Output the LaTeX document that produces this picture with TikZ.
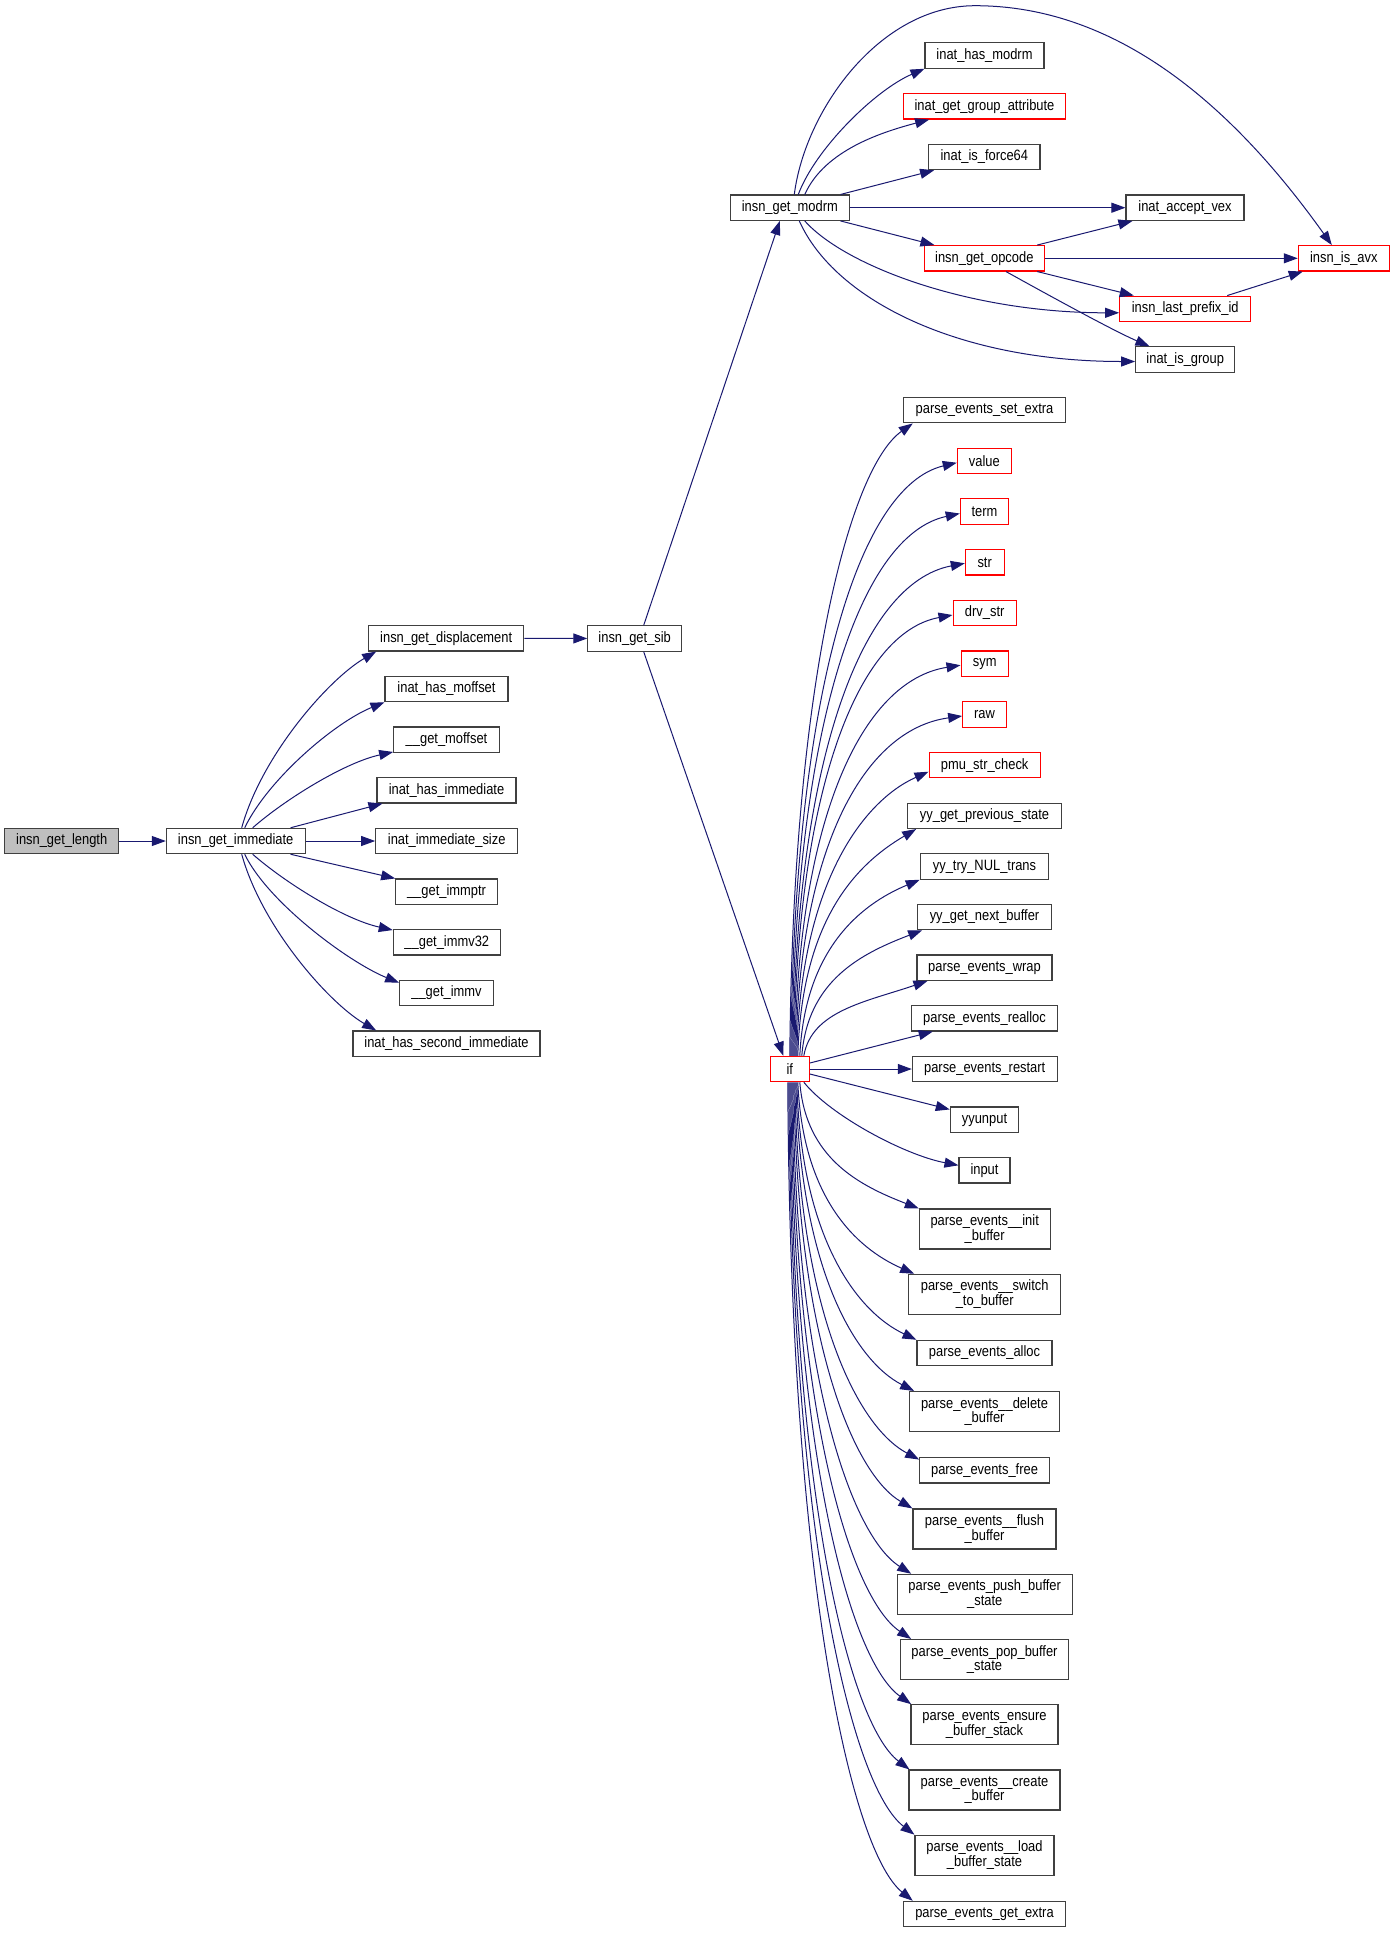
\documentclass[tikz,border=0pt]{standalone}
\usepackage{fontspec}
\setmainfont{Liberation Sans}[FakeStretch=0.86]
\usetikzlibrary{arrows.meta,calc}
\definecolor{edgeblue}{HTML}{191970}
\definecolor{boxgray}{HTML}{404040}
\definecolor{rootgray}{HTML}{BFBFBF}
\definecolor{boxred}{HTML}{FF0000}
\begin{document}
\begin{tikzpicture}[x=1pt,y=-1pt,
  fn/.style={draw=boxgray, fill=white, line width=1.1pt, inner sep=0pt,
    minimum height=25.4pt, align=center, text=black,
    font=\fontsize{15pt}{14.7pt}\selectfont},
  fnr/.style={fn, draw=boxred},
  fnroot/.style={fn, fill=rootgray},
  fntwo/.style={fn, minimum height=40pt},
  e/.style={draw=edgeblue, line width=1pt, -{Triangle[length=14pt,width=10pt]}}]
\fill[white] (0,0) rectangle (1395,1933);
\useasboundingbox (0,0) rectangle (1395,1933);

% column 0-1
\node[fnroot, minimum width=114pt] (len) at (61.7,841) {insn\_get\_length};
\node[fn, minimum width=138.7pt] (imm) at (235.7,841) {insn\_get\_immediate};
% column 2
\node[fn, minimum width=155pt] (disp) at (446.2,638.3) {insn\_get\_displacement};
\node[fn, minimum width=123pt] (hmoff) at (446.5,689) {inat\_has\_moffset};
\node[fn, minimum width=105.6pt] (gmoff) at (446.5,739.7) {\_\_get\_moffset};
\node[fn, minimum width=139pt] (himm) at (446.5,790.3) {inat\_has\_immediate};
\node[fn, minimum width=142pt] (isize) at (446.7,841) {inat\_immediate\_size};
\node[fn, minimum width=101.6pt] (gptr) at (446.5,891.7) {\_\_get\_immptr};
\node[fn, minimum width=107pt] (gv32) at (446.8,942.3) {\_\_get\_immv32};
\node[fn, minimum width=93.6pt] (gv) at (446.5,993) {\_\_get\_immv};
\node[fn, minimum width=187pt] (second) at (446.5,1043.7) {inat\_has\_second\_immediate};
% column 3-4
\node[fn, minimum width=93.7pt] (sib) at (634.7,638.5) {insn\_get\_sib};
\node[fn, minimum width=119pt] (modrm) at (789.8,207.7) {insn\_get\_modrm};
\node[fnr, minimum width=39pt] (iff) at (789.8,1069) {if};
% column 5 top
\node[fn, minimum width=119pt] (hmodrm) at (984.5,55.5) {inat\_has\_modrm};
\node[fnr, minimum width=161.6pt] (ggattr) at (984.5,106.3) {inat\_get\_group\_attribute};
\node[fn, minimum width=111.3pt] (force64) at (984.3,157) {inat\_is\_force64};
\node[fnr, minimum width=120pt] (opcode) at (984.3,258.3) {insn\_get\_opcode};
% column 6-7
\node[fn, minimum width=118pt] (vex) at (1185,207.7) {inat\_accept\_vex};
\node[fnr, minimum width=131pt] (lastpfx) at (1185.2,308.8) {insn\_last\_prefix\_id};
\node[fn, minimum width=99pt] (isgroup) at (1185.2,359.5) {inat\_is\_group};
\node[fnr, minimum width=91pt] (avx) at (1343.8,258.3) {insn\_is\_avx};
% column 5 parse
\node[fn, minimum width=161.6pt] (setextra) at (984.5,410.2) {parse\_events\_set\_extra};
\node[fnr, minimum width=54pt] (value) at (984.3,461) {value};
\node[fnr, minimum width=48.4pt] (term) at (984.5,511.5) {term};
\node[fnr, minimum width=38.7pt] (str) at (984.7,562.3) {str};
\node[fnr, minimum width=63.3pt] (drvstr) at (984.7,613) {drv\_str};
\node[fnr, minimum width=47.3pt] (sym) at (984.7,663.7) {sym};
\node[fnr, minimum width=43.6pt] (raw) at (984.5,714.5) {raw};
\node[fnr, minimum width=111.3pt] (pmu) at (984.7,765.2) {pmu\_str\_check};
\node[fn, minimum width=153.6pt] (yyprev) at (984.5,815.8) {yy\_get\_previous\_state};
\node[fn, minimum width=128.4pt] (yytry) at (984.5,866.5) {yy\_try\_NUL\_trans};
\node[fn, minimum width=133.6pt] (yynext) at (984.5,917) {yy\_get\_next\_buffer};
\node[fn, minimum width=135pt] (wrap) at (984.5,967.7) {parse\_events\_wrap};
\node[fn, minimum width=145.6pt] (realloc) at (984.5,1018.3) {parse\_events\_realloc};
\node[fn, minimum width=144.7pt] (restart) at (984.7,1069) {parse\_events\_restart};
\node[fn, minimum width=68.4pt] (yyunput) at (984.5,1119.7) {yyunput};
\node[fn, minimum width=51pt] (input) at (984.5,1170.3) {input};
\node[fntwo, minimum width=130.7pt] (initbuf) at (984.7,1229) {parse\_events\_\_init\\\_buffer};
\node[fntwo, minimum width=152pt] (switchbuf) at (984.7,1294.3) {parse\_events\_\_switch\\\_to\_buffer};
\node[fn, minimum width=135pt] (alloc) at (984.5,1353) {parse\_events\_alloc};
\node[fntwo, minimum width=149.6pt] (delbuf) at (984.5,1411.5) {parse\_events\_\_delete\\\_buffer};
\node[fn, minimum width=129.6pt] (free) at (984.5,1470.3) {parse\_events\_free};
\node[fntwo, minimum width=143pt] (flush) at (984.5,1529) {parse\_events\_\_flush\\\_buffer};
\node[fntwo, minimum width=175.3pt] (push) at (984.7,1594.3) {parse\_events\_push\_buffer\\\_state};
\node[fntwo, minimum width=168.4pt] (pop) at (984.5,1659.5) {parse\_events\_pop\_buffer\\\_state};
\node[fntwo, minimum width=147pt] (ensure) at (984.5,1724.7) {parse\_events\_ensure\\\_buffer\_stack};
\node[fntwo, minimum width=151pt] (create) at (984.5,1790) {parse\_events\_\_create\\\_buffer};
\node[fntwo, minimum width=139pt] (load) at (984.5,1855.2) {parse\_events\_\_load\\\_buffer\_state};
\node[fn, minimum width=161.6pt] (getextra) at (984.5,1914) {parse\_events\_get\_extra};

\coordinate (arcpeak) at (975,5.7);

% insn_get_length / insn_get_immediate
\draw[e] (len) -- (imm);
\draw[e] ($(imm.north)+(6,0)$) .. controls +(20.3,-73.3) and +(-46.7,27) .. ($(disp.south west)+(8,0)$);
\draw[e] ($(imm.north)+(9,0)$) .. controls +(23.3,-48.3) and +(-50,20.3) .. (hmoff.south west);
\draw[e] ($(imm.north)+(17,0)$) .. controls +(32.3,-28.3) and +(-48.7,10.7) .. ($(gmoff.south west)+(0,-1)$);
\draw[e] ($(imm.north east)+(-15,0)$) -- ($(himm.south west)+(6,0)$);
\draw[e] (imm) -- (isize);
\draw[e] ($(imm.south east)+(-15,0)$) -- (gptr.north west);
\draw[e] ($(imm.south)+(17,0)$) .. controls +(32.3,28.3) and +(-48.7,-10.7) .. ($(gv32.north west)+(0,1)$);
\draw[e] ($(imm.south)+(9,0)$) .. controls +(23.3,48.3) and +(-50,-20.3) .. ($(gv.north west)+(0,3)$);
\draw[e] ($(imm.south)+(6,0)$) .. controls +(20.3,73.3) and +(-46.7,-27) .. ($(second.north west)+(23.7,0)$);

% displacement / sib
\draw[e] (disp) -- (sib);
\draw[e] ($(sib.north)+(9,0)$) -- ($(modrm.south)+(-10,0)$);
\draw[e] ($(sib.south)+(9,0)$) -- ($(iff.north)+(-6.5,0)$);

% insn_get_modrm
\draw[e] ($(modrm.north)+(4.5,0)$) .. controls (805,110) and (880,5.7) .. (arcpeak)
   .. controls (1080,5.7) and (1200,60) .. ($(avx.north)+(-12,0)$);
\draw[e] ($(modrm.north)+(8.5,0)$) .. controls +(16.7,-45) and +(-50,21.7) .. (hmodrm.south west);
\draw[e] ($(modrm.north)+(15,0)$) .. controls +(20,-45) and +(-45,12) .. ($(ggattr.south west)+(26,0)$);
\draw[e] ($(modrm.north east)+(-9.3,0)$) -- ($(force64.south west)+(6,0)$);
\draw[e] (modrm) -- (vex);
\draw[e] ($(modrm.south east)+(-9.3,0)$) -- ($(opcode.north west)+(10.7,0)$);
\draw[e] ($(modrm.south)+(15,0)$) .. controls +(40,45) and +(-150,0) .. ($(lastpfx.west)+(0,4)$);
\draw[e] ($(modrm.south)+(9.5,0)$) .. controls +(35.7,79.7) and +(-175.7,0) .. ($(isgroup.west)+(0,2)$);

% insn_get_opcode
\draw[e] ($(opcode.north east)+(-7.6,0)$) -- ($(vex.south west)+(7,0)$);
\draw[e] (opcode) -- (avx);
\draw[e] ($(opcode.south east)+(-7.6,0)$) -- ($(lastpfx.north west)+(14.6,0)$);
\draw[e] ($(opcode.south)+(21.7,0)$) .. controls +(45,25) and +(-35,-15) .. ($(isgroup.north west)+(14.3,0)$);
\draw[e] ($(lastpfx.north east)+(-24,0)$) -- ($(avx.south west)+(5,0)$);

% if: upper
\draw[e] (iff.north) .. controls +(3,-380) and +(-61.7,43.3) .. ($(setextra.south west)+(9.6,0)$);
\draw[e] ($(iff.north)+(1,0)$) .. controls +(3,-356.2) and +(-99.8,23.7) .. ($(value.west)+(0,1.7)$);
\draw[e] ($(iff.north)+(2,0)$) .. controls +(3,-325.7) and +(-101,21.7) .. ($(term.west)+(0,2)$);
\draw[e] ($(iff.north)+(3,0)$) .. controls +(3,-295.8) and +(-103.4,19.7) .. ($(str.west)+(0,1)$);
\draw[e] ($(iff.north)+(4,0)$) .. controls +(3,-264.8) and +(-95.4,17.7) .. ($(drvstr.west)+(0,2)$);
\draw[e] ($(iff.north)+(5,0)$) .. controls +(3,-234.7) and +(-99.6,15.6) .. ($(sym.west)+(0,1.5)$);
\draw[e] ($(iff.north)+(6,0)$) .. controls +(3,-204.2) and +(-100,13.6) .. ($(raw.west)+(0,1.5)$);
\draw[e] ($(iff.north)+(7,0)$) .. controls +(3,-170.8) and +(-66,29.4) .. ($(pmu.west)+(0,6.5)$);
\draw[e] ($(iff.north)+(8,0)$) .. controls +(4,-136.8) and +(-59.4,35) .. ($(yyprev.south west)+(9,0)$);
\draw[e] ($(iff.north)+(10,0)$) .. controls +(5,-106) and +(-60,25) .. (yytry.south west);
\draw[e] ($(iff.north)+(12,0)$) .. controls +(6,-76) and +(-60,23) .. ($(yynext.south west)+(5,0)$);
\draw[e] ($(iff.north)+(14,0)$) .. controls +(8,-45) and +(-62,21) .. ($(wrap.south west)+(11,0)$);
% if: middle
\draw[e] ($(iff.east)+(0,-6)$) -- ($(realloc.south west)+(21.6,0)$);
\draw[e] (iff) -- (restart);
\draw[e] ($(iff.east)+(0,5)$) -- ($(yyunput.north west)+(0,3)$);
\draw[e] ($(iff.south east)+(-6,0)$) .. controls +(26.7,33.3) and +(-54,-10.3) .. ($(input.west)+(0,-5)$);
% if: lower
\draw[e] ($(iff.south)+(10,0)$) .. controls +(6,76) and +(-59.7,-23.1) .. (initbuf.north west);
\draw[e] ($(iff.south)+(8,0)$) .. controls +(5,115.6) and +(-58.4,-25.7) .. ($(switchbuf.north west)+(6,0)$);
\draw[e] ($(iff.south)+(7,0)$) .. controls +(4,155) and +(-60,-28.3) .. (alloc.north west);
\draw[e] ($(iff.south)+(6,0)$) .. controls +(4,185.8) and +(-59.4,-30.4) .. ($(delbuf.north west)+(5,0)$);
\draw[e] ($(iff.south)+(5,0)$) .. controls +(3,227) and +(-62.4,-33.1) .. ($(free.north west)+(0,2.5)$);
\draw[e] ($(iff.south)+(4,0)$) .. controls +(3,256.4) and +(-59.5,-35.1) .. (flush.north west);
\draw[e] ($(iff.south)+(3,0)$) .. controls +(2,295.6) and +(-59.4,-37.7) .. ($(push.north west)+(14.7,0)$);
\draw[e] ($(iff.south)+(2,0)$) .. controls +(2,334.8) and +(-59.9,-40.3) .. ($(pop.north west)+(11.4,0)$);
\draw[e] ($(iff.south)+(1,0)$) .. controls +(2,373.8) and +(-60.4,-42.9) .. ($(ensure.north west)+(0.7,0)$);
\draw[e] (iff.south) .. controls +(2,413) and +(-60,-45.5) .. ($(create.north west)+(1,0)$);
\draw[e] ($(iff.south)+(-1,0)$) .. controls +(2,452.2) and +(-63,-48.1) .. (load.north west);
\draw[e] ($(iff.south)+(-2,0)$) .. controls +(2,491.8) and +(-62.7,-50.8) .. ($(getextra.north west)+(9.6,0)$);
\end{tikzpicture}
\end{document}
